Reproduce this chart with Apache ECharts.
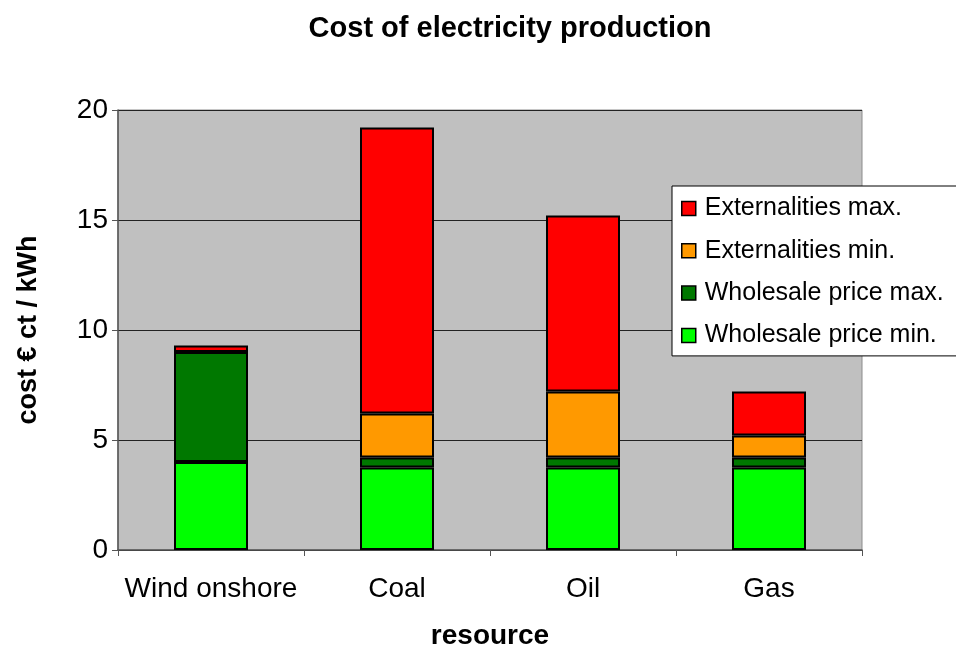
<!DOCTYPE html>
<html>
<head>
<meta charset="utf-8">
<script src="https://cdn.jsdelivr.net/npm/echarts@6/dist/echarts.min.js"></script>
<style>
  html, body { margin: 0; padding: 0; background: #fff; }
  #chart { width: 956px; height: 645px; }
</style>
</head>
<body>
<div id="chart"></div>
<script>
// data (stacked increments, € ct / kWh)
const categories = ["Wind onshore", "Coal", "Oil", "Gas"];
const wholesaleMin = [4, 3.75, 3.75, 3.75];
const wholesaleMax = [5, 0.45, 0.45, 0.45];
const externalMin = [0, 2, 3, 1];
const externalMax = [0.3, 13, 8, 2];
const yTicks = [0, 5, 10, 15, 20];

const font = "Liberation Sans, Arial, sans-serif";

const myChart = echarts.init(document.getElementById("chart"));

function bar(name, data, color) {
    return {
        name: name,
        type: "bar",
        stack: "cost",
        barWidth: 74,
        // zero-height segments are skipped so no stray border line shows
        data: data.map(v => (v === 0 ? "-" : v)),
        itemStyle: { color: color, borderColor: "#000", borderWidth: 2 },
    };
}

const option = {
    animation: false,
    textStyle: { fontFamily: font },
    title: {
        text: "Cost of electricity production",
        left: 505,
        top: 9,
        textAlign: "center",
        textStyle: { fontSize: 29, fontWeight: "bold", color: "#000", fontFamily: font },
    },
    grid: {
        left: 118,
        right: 94,
        top: 110,
        bottom: 95,
        containLabel: false,
        outerBoundsMode: "none",
        show: true,
        backgroundColor: "#c0c0c0",
        borderColor: "#8c8c8c",
        borderWidth: 1,
    },
    legend: {
        orient: "vertical",
        left: 672,
        top: 186,
        data: ["Externalities max.", "Externalities min.", "Wholesale price max.", "Wholesale price min."],
        backgroundColor: "#fff",
        borderColor: "#000",
        borderWidth: 1,
        padding: [10, 30, 8, 9],
        itemGap: 17.3,
        itemWidth: 14,
        itemHeight: 14,
        icon: "rect",
        itemStyle: { borderColor: "#000", borderWidth: 1.5 },
        textStyle: { fontSize: 25, color: "#000", fontFamily: font, padding: [0, 0, 0, 4] },
    },
    xAxis: {
        type: "category",
        data: categories,
        name: "resource",
        nameLocation: "middle",
        nameGap: 72,
        nameTextStyle: { fontSize: 28, fontWeight: "bold", color: "#000", fontFamily: font },
        axisLine: { lineStyle: { color: "#555", width: 1.5 } },
        axisTick: { show: true, length: 6, lineStyle: { color: "#555" } },
        axisLabel: { interval: 0, fontSize: 28, color: "#000", margin: 25, fontFamily: font },
    },
    yAxis: {
        type: "value",
        min: yTicks[0],
        max: yTicks[yTicks.length - 1],
        interval: 5,
        name: "cost € ct / kWh",
        nameLocation: "middle",
        nameGap: 76,
        nameTextStyle: { fontSize: 27, fontWeight: "bold", color: "#000", fontFamily: font },
        axisLine: { show: true, lineStyle: { color: "#555", width: 1.5 } },
        axisTick: { show: true, length: 6, lineStyle: { color: "#555" } },
        axisLabel: { fontSize: 28, color: "#000", margin: 10, fontFamily: font },
        splitLine: { lineStyle: { color: "#222", width: 1 } },
    },
    series: [
        bar("Wholesale price min.", wholesaleMin, "#00ff00"),
        bar("Wholesale price max.", wholesaleMax, "#007800"),
        bar("Externalities min.", externalMin, "#ff9900"),
        bar("Externalities max.", externalMax, "#ff0000"),
    ],
};

option && myChart.setOption(option);
</script>
</body>
</html>
